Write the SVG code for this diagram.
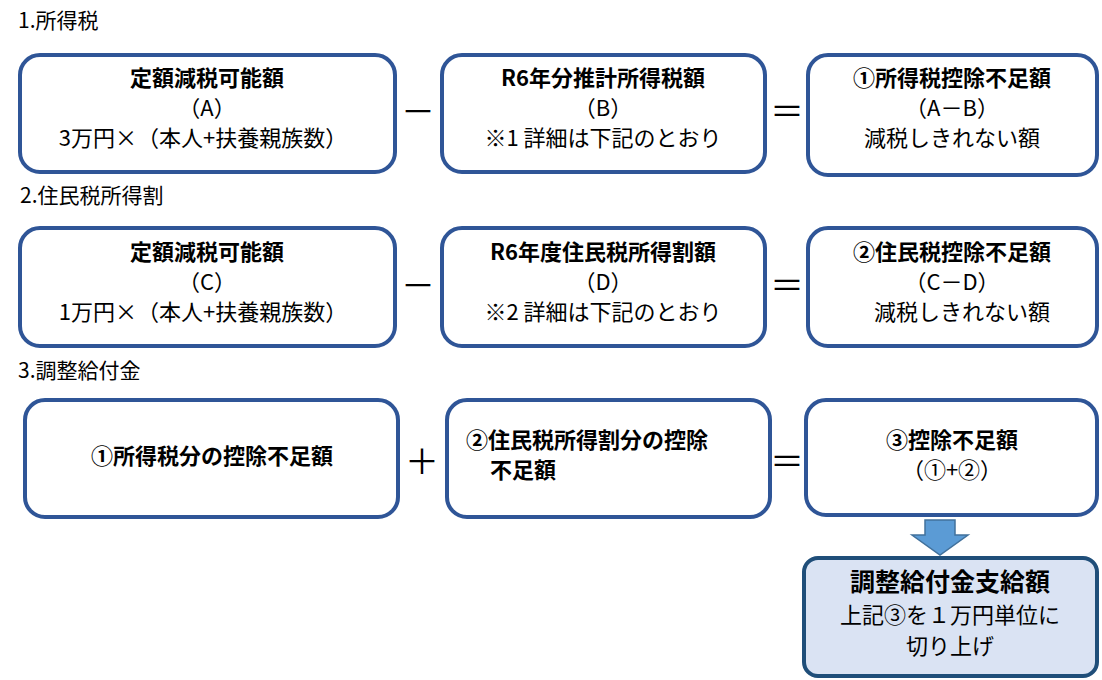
<svg xmlns="http://www.w3.org/2000/svg" width="1102" height="680" viewBox="0 0 1102 680">
<style>
.b{fill:#fff;stroke:#2F5597;stroke-width:4}
text{font-family:"Noto Sans CJK JP","Noto Sans",sans-serif;font-size:22px;fill:#000}
.t{font-weight:bold}
.c{text-anchor:middle}
.h{font-size:21px}
.op{font-size:34px;text-anchor:middle}
</style>
<text class="h" x="18" y="28">1.所得税</text>
<text class="h" x="20" y="203">2.住民税所得割</text>
<text class="h" x="18" y="378">3.調整給付金</text>
<g id="n1"><rect class="b" x="20" y="55" width="375" height="117" rx="20"/>
<text class="c t" x="207" y="86">定額減税可能額</text><text class="c" x="207" y="116">（A）</text><text class="c" x="203" y="146">3万円×（本人+扶養親族数）</text></g>
<g id="n2"><rect class="b" x="442" y="55" width="323" height="117" rx="20"/>
<text class="c t" x="603" y="86">R6年分推計所得税額</text><text class="c" x="603" y="116">（B）</text><text class="c" x="603" y="146">※1 詳細は下記のとおり</text></g>
<g id="n3"><rect class="b" x="808" y="55" width="289" height="120" rx="20"/>
<text class="c t" x="952" y="86">①所得税控除不足額</text><text class="c" x="952" y="116">（A－B）</text><text class="c" x="952" y="146">減税しきれない額</text></g>
<g id="n4"><rect class="b" x="20" y="228" width="375" height="118" rx="20"/>
<text class="c t" x="207" y="260">定額減税可能額</text><text class="c" x="207" y="290">（C）</text><text class="c" x="203" y="320">1万円×（本人+扶養親族数）</text></g>
<g id="n5"><rect class="b" x="442" y="228" width="323" height="118" rx="20"/>
<text class="c t" x="603" y="260">R6年度住民税所得割額</text><text class="c" x="603" y="290">（D）</text><text class="c" x="603" y="320">※2 詳細は下記のとおり</text></g>
<g id="n6"><rect class="b" x="808" y="228" width="289" height="118" rx="20"/>
<text class="c t" x="952" y="260">②住民税控除不足額</text><text class="c" x="952" y="290">（C－D）</text><text class="c" x="962" y="320">減税しきれない額</text></g>
<g id="n7"><rect class="b" x="25" y="400" width="373" height="117" rx="20"/>
<text class="c t" x="212" y="464">①所得税分の控除不足額</text></g>
<g id="n8"><rect class="b" x="447" y="400" width="323" height="117" rx="20"/>
<text class="t" x="466" y="448">②住民税所得割分の控除</text><text class="t" x="490" y="478">不足額</text></g>
<g id="n9"><rect class="b" x="806" y="400" width="291" height="115" rx="20"/>
<text class="c t" x="952" y="448">③控除不足額</text><text class="c" x="952" y="478">（①+②）</text></g>
<g id="n10"><rect x="804" y="558" width="293" height="118" rx="14" fill="#DAE3F3" stroke="#1F4E79" stroke-width="4"/>
<text class="c t" x="950" y="591" style="font-size:25px">調整給付金支給額</text><text class="c" x="950" y="623">上記③を１万円単位に</text><text class="c" x="950" y="654">切り上げ</text></g>
<g id="connectors">
<text class="op" x="418" y="124">－</text><text class="op" x="787" y="124">＝</text>
<text class="op" x="418" y="298">－</text><text class="op" x="787" y="298">＝</text>
<text class="op" x="422" y="474">＋</text><text class="op" x="787" y="474">＝</text>
<polygon points="925,520 955,520 955,535 968,535 940,555 912,535 925,535" fill="#5B9BD5" stroke="#41719C" stroke-width="1.5"/>
</g>
</svg>
